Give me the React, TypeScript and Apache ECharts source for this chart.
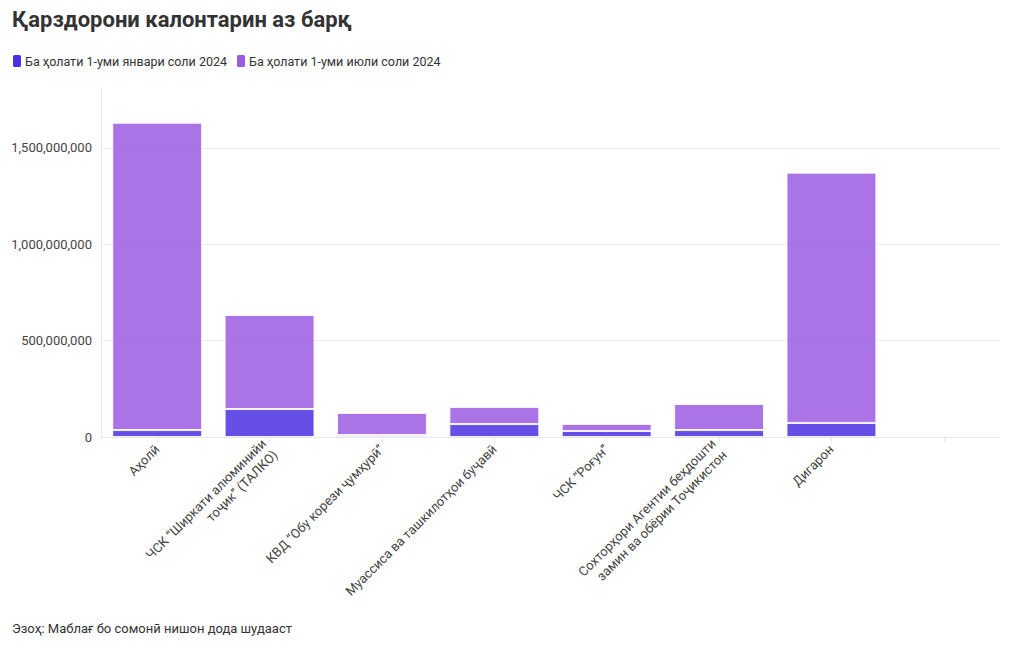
import React, { useEffect, useRef } from "react";
import * as echarts from "echarts";

const titleText = "Қарздорони калонтарин аз барқ";
const noteText = "Эзоҳ: Маблағ бо сомонӣ нишон дода шудааст";
const seriesNames = ["Ба ҳолати 1-уми январи соли 2024", "Ба ҳолати 1-уми июли соли 2024"];
const categories = [
  "Аҳолӣ",
  "ЧСК “Ширкати алюминийи\nтоҷик” (ТАЛКО)",
  "КВД “Обу корези ҷумҳурӣ”",
  "Муассиса ва ташкилотҳои буҷавӣ",
  "ЧСК “Роғун”",
  "Сохторҳори Агентии беҳдошти\nзамин ва обёрии Тоҷикистон",
  "Дигарон",
  "",
];
const january = [36e6, 145e6, 10e6, 67e6, 31e6, 36e6, 73e6, null];
const july = [1594e6, 488e6, 115e6, 89e6, 37e6, 135e6, 1298e6, null];
const yTicksMax = 1.81e9;
const yInterval = 5e8;

const FONT = "Roboto, 'Noto Sans', sans-serif";

export default function App() {
  const ref = useRef<HTMLDivElement>(null);
  useEffect(() => {
    if (!ref.current) return;
    const chart = echarts.init(ref.current, null, { renderer: "svg" });
    chart.setOption({
      animation: false,
      textStyle: { fontFamily: FONT },
      title: [
        {
          text: titleText,
          left: 7,
          top: 3,
          textStyle: { fontFamily: FONT, fontSize: 22, fontWeight: "bold", color: "#333" },
        },
        {
          text: noteText,
          left: 7,
          top: 617,
          textStyle: { fontFamily: FONT, fontSize: 13, fontWeight: "normal", color: "#333" },
        },
      ],
      legend: {
        left: 6,
        top: 48,
        icon: "roundRect",
        itemWidth: 10,
        itemHeight: 14,
        itemGap: 8,
        itemStyle: { opacity: 1 },
        textStyle: { fontFamily: FONT, fontSize: 12.5, color: "#333", padding: [0, 0, 0, -2] },
        data: seriesNames,
      },
      grid: { left: 101, right: 20, top: 88, bottom: 213, containLabel: false },
      xAxis: {
        type: "category",
        data: categories,
        axisLine: { show: true, lineStyle: { color: "#e6e6e6" } },
        axisTick: { show: true, alignWithLabel: true, length: 5, lineStyle: { color: "#e6e6e6" } },
        axisLabel: {
          rotate: 45,
          interval: 0,
          margin: 10,
          fontFamily: FONT,
          fontSize: 13,
          color: "#444",
          lineHeight: 16,
        },
      },
      yAxis: {
        type: "value",
        min: 0,
        max: yTicksMax,
        interval: yInterval,
        axisLine: { show: true, lineStyle: { color: "#e6e6e6" } },
        axisTick: { show: false },
        splitLine: { show: true, showMaxLine: false, lineStyle: { color: "#ececec" } },
        axisLabel: {
          showMaxLabel: false,
          margin: 9,
          fontFamily: FONT,
          fontSize: 13,
          color: "#444",
          formatter: (v: number) => v.toLocaleString("en-US"),
        },
      },
      series: [
        {
          name: seriesNames[0],
          type: "bar",
          stack: "total",
          data: january,
          barCategoryGap: "20%",
          color: "#4b30e3",
          itemStyle: { opacity: 0.85, borderColor: "#fff", borderWidth: 1 },
        },
        {
          name: seriesNames[1],
          type: "bar",
          stack: "total",
          data: july,
          barCategoryGap: "20%",
          color: "#9b5ce3",
          itemStyle: { opacity: 0.85, borderColor: "#fff", borderWidth: 1 },
        },
      ],
    });
    return () => chart.dispose();
  }, []);
  return <div ref={ref} style={{ width: 1020, height: 650, position: "absolute", left: 0, top: 0 }} />;
}
